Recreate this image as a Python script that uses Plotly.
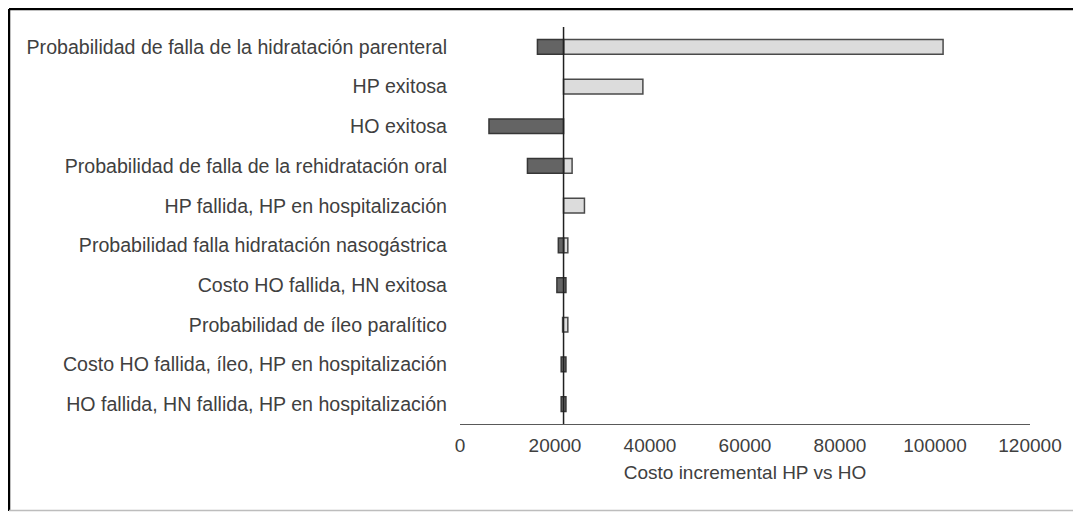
import plotly.graph_objects as go

categories = [
    "Probabilidad de falla de la hidratación parenteral",
    "HP exitosa",
    "HO exitosa",
    "Probabilidad de falla de la rehidratación oral",
    "HP fallida, HP en hospitalización",
    "Probabilidad falla hidratación nasogástrica",
    "Costo HO fallida, HN exitosa",
    "Probabilidad de íleo paralítico",
    "Costo HO fallida, íleo, HP en hospitalización",
    "HO fallida, HN fallida, HP en hospitalización",
]
base_value = 21800
dark_lo = [16300, None, 6100, 14200, None, 20700, 20400, None, 21300, 21300]
dark_hi = [21800, None, 21800, 21800, None, 21800, 22300, None, 22300, 22300]
light_lo = [21800, 21800, None, 21800, 21800, 21800, None, 21600, None, None]
light_hi = [101700, 38500, None, 23600, 26200, 22700, None, 22700, None, None]
x_ticks = [0, 20000, 40000, 60000, 80000, 100000, 120000]

FONT = "Liberation Sans, Arial, sans-serif"
TXT = "#404040"

def seg(lo, hi):
    b, w = [], []
    for a, c in zip(lo, hi):
        if a is None:
            b.append(None); w.append(None)
        else:
            b.append(a); w.append(c - a)
    return b, w

lb, lw = seg(light_lo, light_hi)
db, dw = seg(dark_lo, dark_hi)

fig = go.Figure()
fig.add_trace(go.Bar(y=categories, x=lw, base=lb, orientation="h", width=0.37,
                     marker=dict(color="#dcdcdc", line=dict(color="#4a4a4a", width=1.5)),
                     showlegend=False, hoverinfo="skip"))
fig.add_trace(go.Bar(y=categories, x=dw, base=db, orientation="h", width=0.37,
                     marker=dict(color="#646464", line=dict(color="#363636", width=1.5)),
                     showlegend=False, hoverinfo="skip"))

fig.add_shape(type="line", xref="x", yref="paper", x0=base_value, x1=base_value,
              y0=0, y1=1, line=dict(color="#202020", width=1.5), layer="above")

# page has an 8px body margin: work in page coords and shift
OFF = 8
W, H = 1081 - OFF, 512 - OFF
L, T = 460 - OFF, 27 - OFF
R = W - (1030 - OFF)
B = H - (424 - OFF)
pw, ph = W - L - R, H - T - B
def px(x): return (x - OFF - L) / pw
def py(y): return (H - B - (y - OFF)) / ph
fig.add_shape(type="line", xref="paper", yref="paper", x0=px(9), x1=px(9), y0=py(9), y1=py(511),
              line=dict(color="#000000", width=2.5))
fig.add_shape(type="line", xref="paper", yref="paper", x0=px(9), x1=px(1076), y0=py(9), y1=py(9),
              line=dict(color="#000000", width=2.5))
fig.add_shape(type="line", xref="paper", yref="paper", x0=px(1076), x1=px(1076), y0=py(9), y1=py(511),
              line=dict(color="#000000", width=2))
fig.add_shape(type="line", xref="paper", yref="paper", x0=px(9), x1=px(1076), y0=py(510.5), y1=py(510.5),
              line=dict(color="#bdbdbd", width=1.5))

fig.update_layout(
    width=W, height=H, barmode="overlay",
    paper_bgcolor="white", plot_bgcolor="white",
    margin=dict(l=L, r=R, t=T, b=B, autoexpand=False),
    font=dict(family=FONT, size=19, color=TXT),
    xaxis=dict(range=[0, 120000], tickvals=x_ticks, ticktext=[str(v) for v in x_ticks],
               showgrid=False, zeroline=False, showline=True, linecolor="#595959", linewidth=1.2,
               ticks="", tickfont=dict(size=19, color=TXT), ticklabelstandoff=4,
               title=dict(text="Costo incremental HP vs HO", font=dict(size=19, color=TXT), standoff=10)),
    yaxis=dict(autorange="reversed", showgrid=False, zeroline=False, showline=False, ticks="",
               tickfont=dict(size=19.6, color=TXT), ticklabelstandoff=12),
)

fig.write_html("out.html")
